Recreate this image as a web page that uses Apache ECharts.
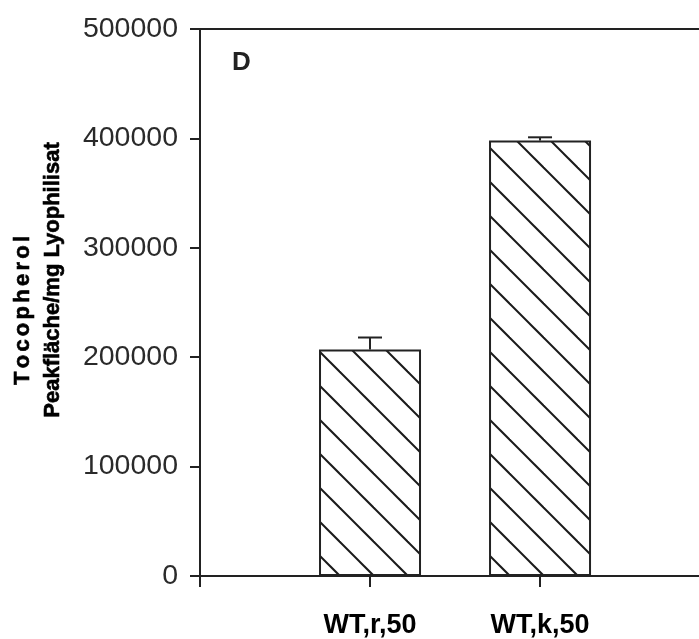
<!DOCTYPE html>
<html>
<head>
<meta charset="utf-8">
<script src="https://cdn.jsdelivr.net/npm/echarts@6/dist/echarts.min.js"></script>
<style>
html,body{margin:0;padding:0;background:#fff;}
#chart{width:699px;height:639px;}
</style>
</head>
<body>
<div id="chart"></div>
<script>
const categories = ['WT,r,50', 'WT,k,50'];
const values = [207000, 398000];
const errors = [11000, 3000];
const yTicks = [0, 100000, 200000, 300000, 400000, 500000];
const panelLabel = 'D';
const yTitleLines = ['Tocopherol', 'Peakfläche/mg Lyophilisat'];

const titleSize = 22;
const titleFont = 'bold ' + titleSize + 'px "Liberation Sans", Arial, sans-serif';
// advance widths (em) of Liberation Sans Bold, used to track the first title line
const boldEm = {T: 0.611, o: 0.611, c: 0.556, p: 0.611, h: 0.611, e: 0.556, r: 0.389, l: 0.278};

function hatch() {
  const s = 34, o = 2;
  const c = document.createElement('canvas');
  c.width = s; c.height = s;
  const g = c.getContext('2d');
  g.fillStyle = '#fff';
  g.fillRect(0, 0, s, s);
  g.strokeStyle = '#1a1a1a';
  g.lineWidth = 2;
  [-s, 0, s].forEach(d => {
    g.beginPath(); g.moveTo(o + d - 2, -2); g.lineTo(o + d + s + 2, s + 2); g.stroke();
  });
  return c;
}

const titleStyle = {font: titleFont, fill: '#000', stroke: '#000', lineWidth: 0.6};

function spacedText(text, cx, bottom, top) {
  const chars = [...text];
  const ws = chars.map(ch => (boldEm[ch] || 0.556) * titleSize);
  const sum = ws.reduce((a, b) => a + b, 0);
  const spacing = ((bottom - top) - sum) / (chars.length - 1);
  let pos = bottom;
  return chars.map((ch, i) => {
    const el = {type: 'text', x: cx, y: pos, rotation: Math.PI / 2,
      style: Object.assign({text: ch, align: 'left', verticalAlign: 'middle'}, titleStyle)};
    pos -= ws[i] + spacing;
    return el;
  });
}

const chart = echarts.init(document.getElementById('chart'), null, {renderer: 'canvas'});
const axisColor = '#222';
const barData = categories.map((c, i) => [i + 1, values[i]]);
const errData = categories.map((c, i) => [i + 1, values[i], values[i] + errors[i]]);

chart.setOption({
  animation: false,
  backgroundColor: '#fff',
  grid: {left: 200, top: 29, right: 0, bottom: 63, containLabel: false},
  xAxis: [{
    type: 'value', min: 0, max: 2.935, interval: 1,
    splitLine: {show: false},
    axisLine: {show: true, lineStyle: {color: axisColor, width: 2}},
    axisTick: {show: true, length: 11, lineStyle: {color: axisColor, width: 2}, customValues: [0, 1, 2]},
    axisLabel: {
      show: true, customValues: [1, 2], margin: 36,
      fontFamily: 'Liberation Sans, Arial, sans-serif', fontWeight: 'bold', fontSize: 27, color: '#000',
      formatter: v => categories[Math.round(v) - 1] || ''
    }
  }, {
    type: 'value', position: 'top', min: 0, max: 2.935,
    splitLine: {show: false},
    axisLine: {show: true, lineStyle: {color: axisColor, width: 2}},
    axisTick: {show: false}, axisLabel: {show: false}
  }],
  yAxis: {
    type: 'value', min: yTicks[0], max: yTicks[yTicks.length - 1], interval: 100000,
    splitLine: {show: false},
    axisLine: {show: true, lineStyle: {color: axisColor, width: 2}},
    axisTick: {show: true, length: 10, lineStyle: {color: axisColor, width: 2}},
    axisLabel: {
      margin: 22, fontFamily: 'Liberation Sans, Arial, sans-serif', fontSize: 28.5, color: '#2a2a2a',
      formatter: v => String(v)
    }
  },
  graphic: [
    {type: 'text', left: 232, top: 50, style: {text: panelLabel, font: 'bold 26px "Liberation Sans", Arial, sans-serif', fill: '#222'}},
    ...spacedText(yTitleLines[0], 23, 385, 236),
    {type: 'text', x: 53, y: 280, rotation: Math.PI / 2, style: Object.assign({text: yTitleLines[1], align: 'center', verticalAlign: 'middle'}, titleStyle)}
  ],
  series: [{
    type: 'bar', data: barData, barWidth: 102,
    itemStyle: {color: {image: hatch(), repeat: 'repeat'}, borderColor: axisColor, borderWidth: 2}
  }, {
    type: 'custom', data: errData, z: 5,
    renderItem: (params, api) => {
      const x = api.coord([api.value(0), api.value(1)]);
      const top = api.coord([api.value(0), api.value(2)]);
      const hw = 12;
      const st = {stroke: axisColor, lineWidth: 2};
      return {type: 'group', children: [
        {type: 'line', shape: {x1: x[0], y1: x[1], x2: top[0], y2: top[1]}, style: st},
        {type: 'line', shape: {x1: top[0] - hw, y1: top[1], x2: top[0] + hw, y2: top[1]}, style: st}
      ]};
    }
  }]
});
</script>
</body>
</html>
